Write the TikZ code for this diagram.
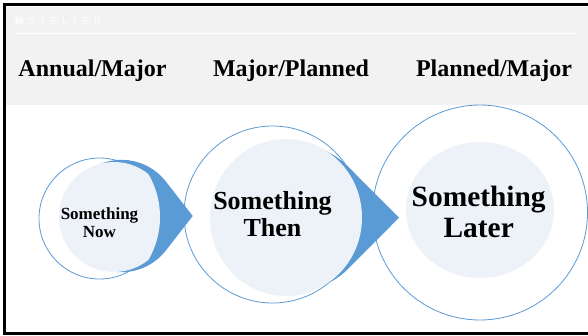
\documentclass[tikz,border=0pt]{standalone}
\usepackage{fontspec}
\setmainfont{Liberation Serif}
\newfontfamily\logofont{Liberation Sans}
\usepackage{xcolor}
\usetikzlibrary{shapes.geometric}
\definecolor{stepblue}{HTML}{5B9BD5}
\definecolor{steplight}{HTML}{EDF2F9}
\definecolor{bandgray}{HTML}{F2F2F2}

\begin{document}
\begin{tikzpicture}[x = 1pt, y = -1pt,
      outer/.style = {circle, draw = stepblue, fill = white, line width = 0.8pt, inner sep = 0pt, minimum size = #1},
      inner/.style args = {#1x#2}{ellipse, fill = steplight, inner sep = 0pt, minimum width = #1, minimum height = #2},
      head/.style = {font = \bfseries\fontsize{24}{24}\selectfont, anchor = base, inner sep = 0pt},
      steptext/.style n args = {2}{font = \bfseries\fontsize{#1}{#2}\selectfont, align = center, inner sep = 0pt}
      ]
      \useasboundingbox (0,0) rectangle (588,335);
      \fill[bandgray] (6,6.5) rectangle (588,105);
      \draw[white, line width = 1pt] (15,33) -- (578,33);
      \draw[line width = 3pt] (588,4.8) -- (4.5,4.8) -- (4.5,333.5) -- (588,333.5);
      \node[text = white, anchor = west, inner sep = 0pt,
            font = \logofont\fontsize{10}{10}\selectfont\addfontfeature{LetterSpace=48}] (logo) at (15,21.3) {\textbf{M}STELTER};
      \node[head] (annual) at (92.5,76.7) {Annual/Major};
      \node[head] (major) at (291,76.7) {Major/Planned};
      \node[head] (planned) at (494,76.7) {Planned/Major};
      \node[outer = 121pt] (now) at (99.5,218.5) {};
      \node[outer = 177pt] (then) at (272.5,214.5) {};
      \node[outer = 215pt] (later) at (480,212.5) {};
      % arrow heads behind the inner discs
      \foreach \cx/\cy/\r/\tip in {121.5/216/56.2/192.7, 296/217.7/73/399}{
            \pgfmathsetmacro\ang{acos(\r/(\tip-\cx))}
            \fill[stepblue] (\tip,\cy) -- ({\cx+\r*cos(\ang)},{\cy-\r*sin(\ang)})
                  arc[start angle = -\ang, end angle = \ang-360, radius = \r] -- cycle;
      }
      \begin{scope}
            \clip (75,217) circle[radius = 85];
            \node[inner = 110pt x 110pt] (nowdisc) at (114,217) {};
      \end{scope}
      \node[inner = 152pt x 157pt] (thendisc) at (286,217.5) {};
      \node[inner = 148pt x 136pt] (laterdisc) at (480,210) {};
      \node[steptext = {17}{17.8}] (nowtext) at (99.5,222.4) {Something\\Now};
      \node[steptext = {26}{26.7}] (thentext) at (272.5,214.2) {Something\\Then};
      \node[steptext = {29.4}{31.3}] (latertext) at (478.7,211.7) {Something\\Later};
\end{tikzpicture}
\end{document}
